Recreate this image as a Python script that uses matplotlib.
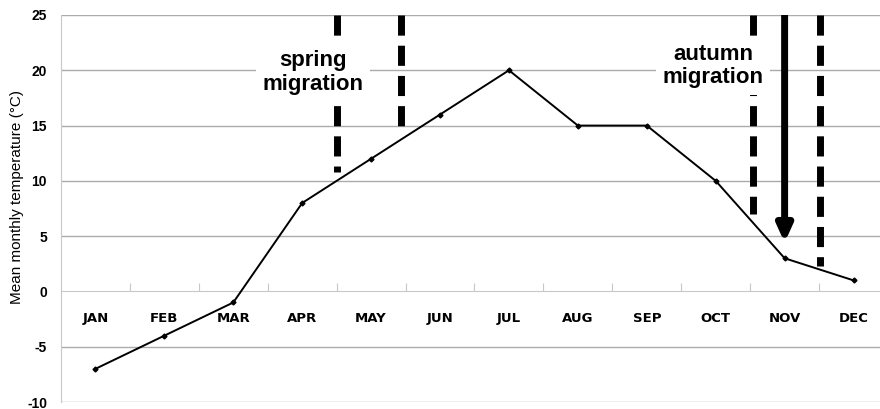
import matplotlib
matplotlib.use("Agg")
import matplotlib.pyplot as plt
import numpy as np

months = ["JAN", "FEB", "MAR", "APR", "MAY", "JUN", "JUL", "AUG", "SEP", "OCT", "NOV", "DEC"]
temps = [-7, -4, -1, 8, 12, 16, 20, 15, 15, 10, 3, 1]
y_ticks = [-10, -5, 0, 5, 10, 15, 20, 25]

# migration markers (x in month index units, y = bottom end of line)
spring_lines = [(3.5, 10.8), (4.43, 14.5)]
autumn_lines = [(9.54, 7.0), (10.52, 2.3)]
arrow_x, arrow_tip = 10.0, 4.4

fig = plt.figure(figsize=(8.8, 4.09), dpi=100)
ax = fig.add_axes([61/880, 1 - 402/409, 1 - 61/880, 387/409])

x = np.arange(len(months))
ax.set_ylim(-10, 25)
ax.set_xlim(-0.5, 11.5 - 8/69)

for yv in y_ticks:
    if yv != 0:
        ax.axhline(yv, color="#ababab", lw=1.0, zorder=0)

ax.plot(x, temps, color="black", lw=1.4, marker="D", ms=2.5, zorder=3)

ax.spines["right"].set_visible(False)
ax.spines["top"].set_visible(False)
ax.spines["left"].set_color("#c8c8c8")
ax.spines["bottom"].set_position(("data", 0))
ax.spines["bottom"].set_color("#c8c8c8")

ax.set_yticks(y_ticks)
ax.set_yticklabels([str(v) for v in y_ticks], fontweight="bold", fontsize=10,
                   family=["Liberation Sans", "DejaVu Sans"])
ax.tick_params(axis="y", length=0, pad=10)

ax.set_xticks(np.arange(0.5, 11.5, 1.0))
ax.set_xticklabels([])
ax.tick_params(axis="x", which="major", direction="in", length=6, color="#c8c8c8")
ax.set_xticks(x, minor=True)
ax.set_xticklabels(months, minor=True, fontweight="bold", fontsize=9.5,
                   family=["Liberation Sans Narrow", "DejaVu Sans"])
ax.tick_params(axis="x", which="minor", length=0, pad=15)

ax.set_ylabel("Mean monthly temperature (°C)", fontsize=11,
              family=["Liberation Sans", "DejaVu Sans"])
ax.yaxis.set_label_coords(-0.045, 0.53)

dash = (0, (2.9, 1.45))
for xv, yb in spring_lines + autumn_lines:
    ax.plot([xv, xv], [25, yb], color="black", lw=5, linestyle=dash,
            solid_capstyle="butt", dash_capstyle="butt", zorder=4)

ax.annotate("", xy=(arrow_x, arrow_tip), xytext=(arrow_x, 25),
            arrowprops=dict(arrowstyle="-|>,head_width=0.45,head_length=1.0",
                            color="black", lw=5, shrinkA=0, shrinkB=0,
                            capstyle="butt"),
            zorder=5)

bbox = dict(boxstyle="square,pad=0.3", fc="white", ec="none")
ax.text(3.16, 19.8, "spring\nmigration", ha="center", va="center", fontsize=16,
        fontweight="bold", family=["Liberation Sans", "DejaVu Sans"],
        linespacing=1.15, bbox=bbox, zorder=6)
ax.text(8.96, 20.4, "autumn\nmigration", ha="center", va="center", fontsize=16,
        fontweight="bold", family=["Liberation Sans", "DejaVu Sans"],
        linespacing=1.15, bbox=bbox, zorder=6)

fig.savefig("out.png", dpi=100)
